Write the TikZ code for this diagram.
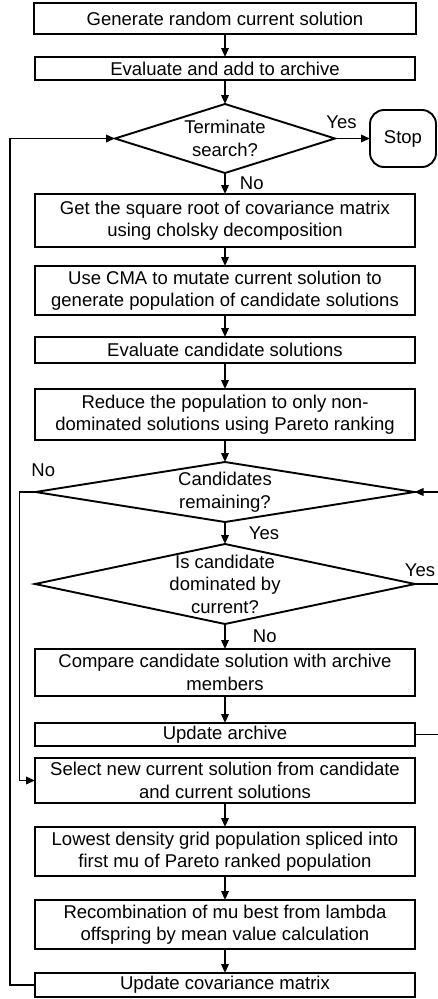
\documentclass[tikz,border=0pt]{standalone}
\usepackage{fontspec}
\setmainfont{Liberation Sans}
\usetikzlibrary{arrows.meta,positioning,shapes.geometric,calc}
\tikzset{
  >={Triangle[length=9pt, width=7.5pt]},
  proc/.style={draw, line width=1.9pt, outer sep=0pt, align=center, minimum width=380pt, minimum height=23pt, inner sep=0pt},
  proctwo/.style={proc, minimum height=48pt},
  decision/.style={diamond, draw, line width=1.9pt, outer sep=0pt, align=center, inner sep=-6pt},
  stopbox/.style={draw, line width=1.9pt, outer sep=0pt, rounded corners=14pt, minimum width=66pt, minimum height=57pt},
  lab/.style={inner sep=0pt},
  flow/.style={->, line width=1.9pt},
}

\begin{document}
\begin{tikzpicture}[x=1pt, y=1pt, font=\fontsize{18.5}{22.5}\selectfont]
  \useasboundingbox (0,0) rectangle (437,-999);

  \node[proc, minimum width=382pt, minimum height=31pt] (gen) at (225,-18.5) {Generate random current solution};
  \node[proc, minimum height=23pt, below=23pt of gen] (eval) {Evaluate and add to archive};
  \node[decision, aspect=3.2, minimum width=220pt, minimum height=69pt, below=24pt of eval] (term) {Terminate\\search?};
  \node[stopbox, right=35pt of term] (stop) {Stop};
  \node[proctwo, minimum height=53pt, below=21pt of term] (chol) {Get the square root of covariance matrix\\using cholsky decomposition};
  \node[proctwo, minimum height=49pt, below=19pt of chol] (mutate) {Use CMA to mutate current solution to\\generate population of candidate solutions};
  \node[proc, minimum height=26pt, below=22pt of mutate] (evalc) {Evaluate candidate solutions};
  \node[proctwo, minimum height=51pt, below=26pt of evalc] (reduce) {Reduce the population to only non-\\dominated solutions using Pareto ranking};
  \node[decision, aspect=6.3, minimum width=379pt, minimum height=60pt, below=22pt of reduce] (remain) {Candidates\\remaining?};
  \node[decision, aspect=4.75, minimum width=380pt, minimum height=80pt, below=22pt of remain] (dom) {Is candidate\\dominated by\\current?};
  \node[proctwo, minimum height=47pt, below=25pt of dom] (compare) {Compare candidate solution with archive\\members};
  \node[proc, below=27pt of compare] (upd) {Update archive};
  \node[proctwo, minimum height=45pt, below=12pt of upd] (select) {Select new current solution from candidate\\and current solutions};
  \node[proctwo, minimum height=49pt, below=24pt of select] (lowest) {Lowest density grid population spliced into\\first mu of Pareto ranked population};
  \node[proctwo, minimum height=49pt, below=24pt of lowest] (recomb) {Recombination of mu best from lambda\\offspring by mean value calculation};
  \node[proc, minimum height=24pt, below=24pt of recomb] (updcov) {Update covariance matrix};

  % main flow
  \draw[flow] (gen) -- (eval);
  \draw[flow] (eval) -- (term);
  \draw[flow] (term) -- node[lab, above=9pt, xshift=-11pt] {Yes} (stop);
  \draw[flow] (term) -- node[lab, right=14pt] {No} (chol);
  \draw[flow] (chol) -- (mutate);
  \draw[flow] (mutate) -- (evalc);
  \draw[flow] (evalc) -- (reduce);
  \draw[flow] (reduce) -- (remain);
  \draw[flow] (remain) -- node[lab, right=23pt] {Yes} (dom);
  \draw[flow] (dom) -- node[lab, right=27pt] {No} (compare);
  \draw[flow] (compare) -- (upd);
  \draw[flow] (select) -- (lowest);
  \draw[flow] (lowest) -- (recomb);
  \draw[flow] (recomb) -- (updcov);

  % loops
  \draw[flow] (updcov.west) -- ++(-25,0) |- (term.west);
  \draw[flow] (remain.west) node[lab, above right=14pt and -5pt] {No} -- ++(-16,0) |- (select.west);
  \draw[flow] (upd.east) -- ++(26,0) coordinate (rbus) |- (remain.east);
  \draw[line width=1.9pt] (dom.east) -- node[lab, above=6pt, pos=0.19] {Yes} (dom.east -| rbus);
\end{tikzpicture}
\end{document}
